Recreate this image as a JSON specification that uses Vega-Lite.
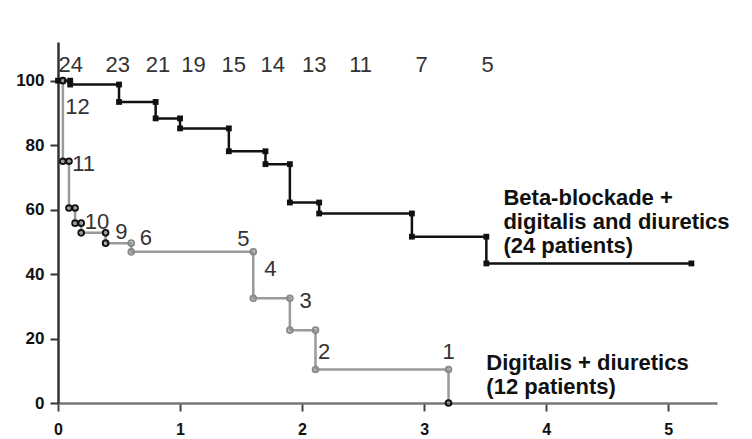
{
  "$schema": "https://vega.github.io/schema/vega-lite/v6.json",
  "autosize": {"type": "none"},
  "padding": {"left": 58, "top": 42, "right": 35, "bottom": 36},
  "width": 659,
  "height": 361,
  "background": "white",
  "config": {
    "view": {"stroke": null},
    "font": "Liberation Sans",
    "axis": {"grid": false, "title": null, "labelFont": "Liberation Sans", "labelFontWeight": "bold", "labelFontSize": 16, "labelColor": "#111"}
  },
  "datasets": {
    "km": [
      {"series": "Beta", "i": 0, "x": 0, "y": 100},
      {"series": "Beta", "i": 1, "x": 0.1, "y": 100},
      {"series": "Beta", "i": 2, "x": 0.1, "y": 98.8},
      {"series": "Beta", "i": 3, "x": 0.5, "y": 98.8},
      {"series": "Beta", "i": 4, "x": 0.5, "y": 93.4},
      {"series": "Beta", "i": 5, "x": 0.8, "y": 93.4},
      {"series": "Beta", "i": 6, "x": 0.8, "y": 88.3},
      {"series": "Beta", "i": 7, "x": 1.0, "y": 88.3},
      {"series": "Beta", "i": 8, "x": 1.0, "y": 85.2},
      {"series": "Beta", "i": 9, "x": 1.4, "y": 85.2},
      {"series": "Beta", "i": 10, "x": 1.4, "y": 78.1},
      {"series": "Beta", "i": 11, "x": 1.7, "y": 78.1},
      {"series": "Beta", "i": 12, "x": 1.7, "y": 74.1},
      {"series": "Beta", "i": 13, "x": 1.9, "y": 74.1},
      {"series": "Beta", "i": 14, "x": 1.9, "y": 62.2},
      {"series": "Beta", "i": 15, "x": 2.14, "y": 62.2},
      {"series": "Beta", "i": 16, "x": 2.14, "y": 58.8},
      {"series": "Beta", "i": 17, "x": 2.9, "y": 58.8},
      {"series": "Beta", "i": 18, "x": 2.9, "y": 51.6},
      {"series": "Beta", "i": 19, "x": 3.51, "y": 51.6},
      {"series": "Beta", "i": 20, "x": 3.51, "y": 43.3},
      {"series": "Beta", "i": 21, "x": 5.19, "y": 43.3},
      {"series": "Dig", "i": 0, "x": 0, "y": 100},
      {"series": "Dig", "i": 1, "x": 0.04, "y": 100},
      {"series": "Dig", "i": 2, "x": 0.04, "y": 75},
      {"series": "Dig", "i": 3, "x": 0.09, "y": 75},
      {"series": "Dig", "i": 4, "x": 0.09, "y": 60.5},
      {"series": "Dig", "i": 5, "x": 0.14, "y": 60.5},
      {"series": "Dig", "i": 6, "x": 0.14, "y": 55.8},
      {"series": "Dig", "i": 7, "x": 0.19, "y": 55.8},
      {"series": "Dig", "i": 8, "x": 0.19, "y": 52.8},
      {"series": "Dig", "i": 9, "x": 0.39, "y": 52.8},
      {"series": "Dig", "i": 10, "x": 0.39, "y": 49.6},
      {"series": "Dig", "i": 11, "x": 0.6, "y": 49.6},
      {"series": "Dig", "i": 12, "x": 0.6, "y": 46.9},
      {"series": "Dig", "i": 13, "x": 1.6, "y": 46.9},
      {"series": "Dig", "i": 14, "x": 1.6, "y": 32.5},
      {"series": "Dig", "i": 15, "x": 1.9, "y": 32.5},
      {"series": "Dig", "i": 16, "x": 1.9, "y": 22.6},
      {"series": "Dig", "i": 17, "x": 2.11, "y": 22.6},
      {"series": "Dig", "i": 18, "x": 2.11, "y": 10.4},
      {"series": "Dig", "i": 19, "x": 3.2, "y": 10.4},
      {"series": "Dig", "i": 20, "x": 3.2, "y": 0}
    ],
    "risk": [
      {"x": 0.105, "y": 105, "n": "24"},
      {"x": 0.49, "y": 105, "n": "23"},
      {"x": 0.82, "y": 105, "n": "21"},
      {"x": 1.11, "y": 105, "n": "19"},
      {"x": 1.44, "y": 105, "n": "15"},
      {"x": 1.76, "y": 105, "n": "14"},
      {"x": 2.1, "y": 105, "n": "13"},
      {"x": 2.48, "y": 105, "n": "11"},
      {"x": 2.98, "y": 105, "n": "7"},
      {"x": 3.52, "y": 105, "n": "5"},
      {"x": 0.16, "y": 91.9, "n": "12"},
      {"x": 0.21, "y": 74.3, "n": "11"},
      {"x": 0.32, "y": 56.2, "n": "10"},
      {"x": 0.52, "y": 52.9, "n": "9"},
      {"x": 0.72, "y": 51.3, "n": "6"},
      {"x": 1.52, "y": 50.8, "n": "5"},
      {"x": 1.74, "y": 41.5, "n": "4"},
      {"x": 2.03, "y": 31.6, "n": "3"},
      {"x": 2.18, "y": 15.9, "n": "2"},
      {"x": 3.2, "y": 15.9, "n": "1"}
    ],
    "notes": [
      {"x": 3.65, "y": 63.6, "t": "Beta-blockade +\ndigitalis and diuretics\n(24 patients)", "lh": 28},
      {"x": 3.51, "y": 12.4, "t": "Digitalis + diuretics\n(12 patients)", "lh": 31}
    ]
  },
  "encoding": {
    "x": {"field": "x", "type": "quantitative", "scale": {"domain": [0, 5.4], "nice": false, "zero": false},
      "axis": {"values": [0, 1, 2, 3, 4, 5], "format": "d", "tickSize": 8, "tickWidth": 2, "tickColor": "#444", "domainColor": "#777", "domainWidth": 2.5, "labelPadding": 10, "labelFlush": false}},
    "y": {"field": "y", "type": "quantitative", "scale": {"domain": [0, 112], "nice": false},
      "axis": {"values": [0, 20, 40, 60, 80, 100], "tickSize": 8, "tickWidth": 2, "tickColor": "#333", "domainColor": "#333", "domainWidth": 2.5, "labelPadding": 6, "labelFontSize": 17}}
  },
  "layer": [
    {
      "data": {"name": "km"},
      "mark": {"type": "line", "strokeWidth": 2.5, "interpolate": "linear"},
      "encoding": {
        "detail": {"field": "series"},
        "order": {"field": "i", "type": "quantitative"},
        "color": {"field": "series", "type": "nominal", "scale": {"domain": ["Beta", "Dig"], "range": ["#111111", "#9a9a9a"]}, "legend": null}
      }
    },
    {
      "data": {"name": "km"},
      "transform": [{"filter": "datum.series == 'Beta'"}],
      "mark": {"type": "point", "shape": "square", "filled": true, "size": 34, "color": "#111", "opacity": 1}
    },
    {
      "data": {"name": "km"},
      "transform": [{"filter": "datum.series == 'Dig' && datum.i > 0"}],
      "mark": {"type": "point", "shape": "circle", "filled": false, "size": 32, "strokeWidth": 2, "opacity": 1},
      "encoding": {
        "stroke": {"condition": {"test": "datum.x < 0.5 || datum.y == 0", "value": "#111"}, "value": "#8a8a8a"}
      }
    },
    {
      "data": {"name": "risk"},
      "mark": {"type": "text", "fontSize": 22, "color": "#333", "align": "center", "baseline": "middle", "font": "Liberation Sans"},
      "encoding": {"text": {"field": "n"}}
    },
    {
      "data": {"name": "notes"},
      "mark": {"type": "text", "fontSize": 22, "fontWeight": "bold", "color": "#111", "align": "left", "baseline": "middle", "lineBreak": "\n", "font": "Liberation Sans"},
      "encoding": {"text": {"field": "t"}, "lineHeight": {"field": "lh", "type": "quantitative", "scale": null}}
    }
  ]
}
